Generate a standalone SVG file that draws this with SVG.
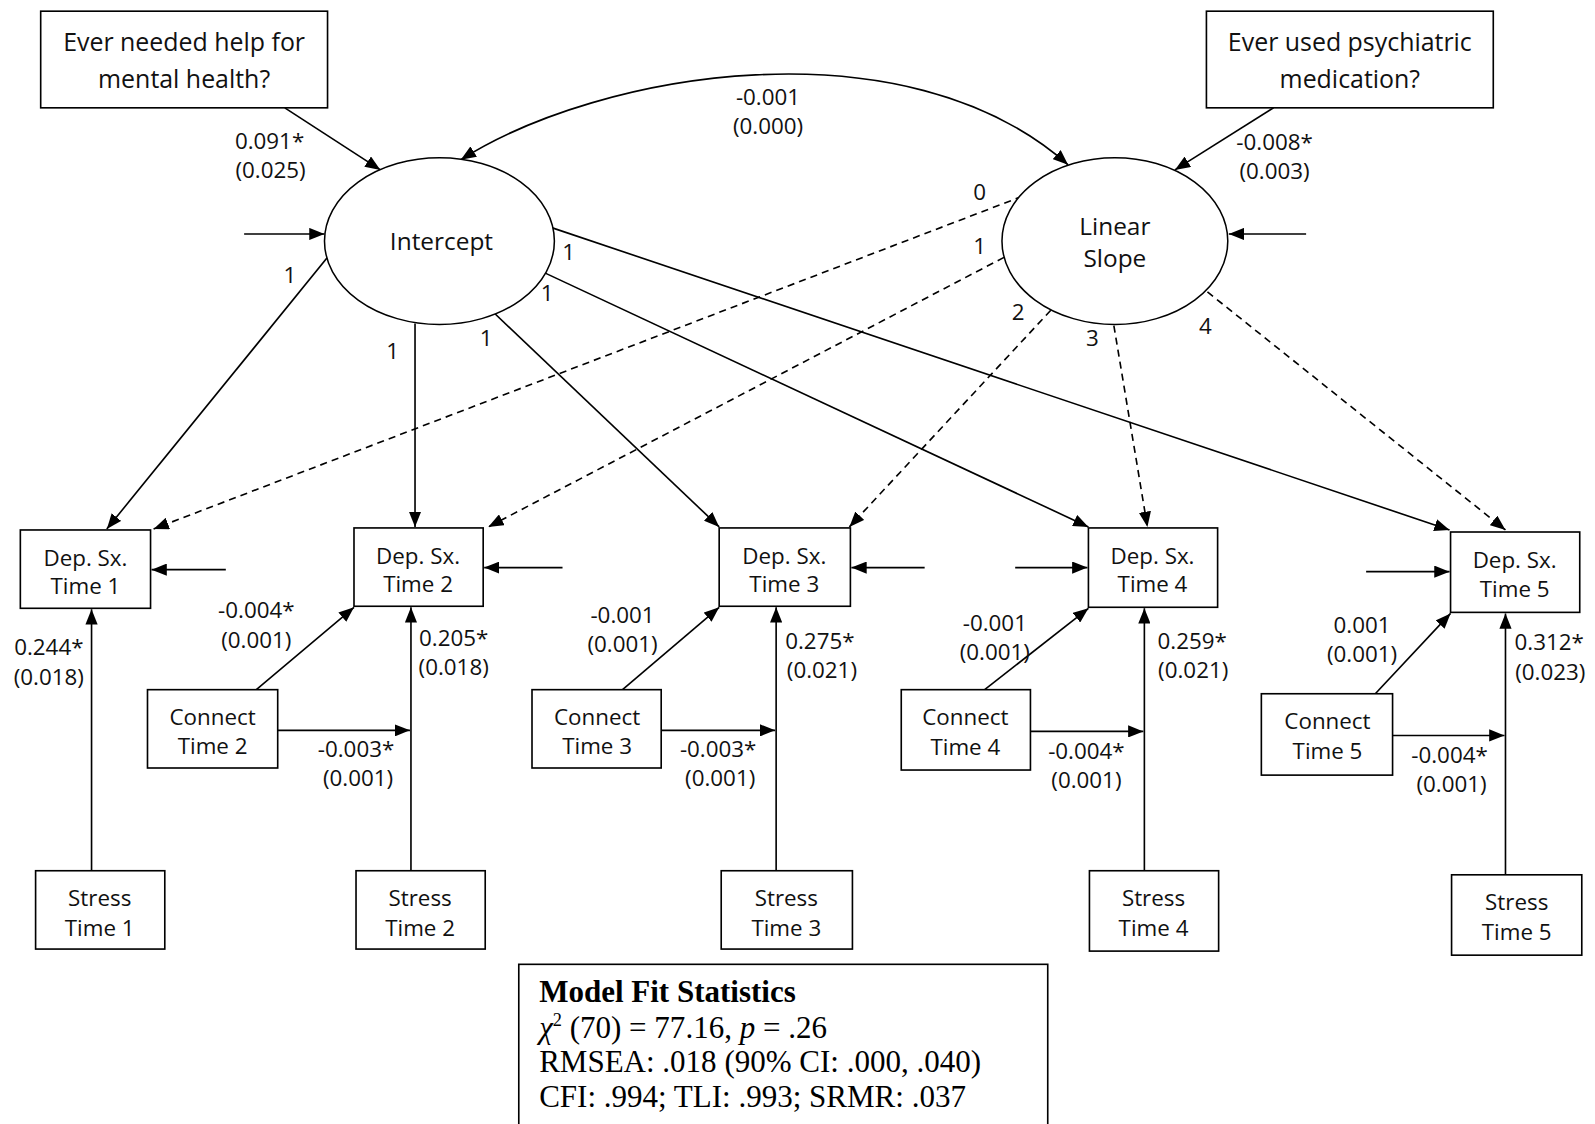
<svg xmlns="http://www.w3.org/2000/svg" width="1595" height="1124" viewBox="0 0 1595 1124">
  <style>
    .box { fill: #fff; stroke: #000; stroke-width: 1.6; }
    .lat { fill: #fff; stroke: #000; stroke-width: 1.5; }
    .t { font-family: "Open Sans", "Noto Sans", sans-serif; font-size: 22px; fill: #111; text-anchor: middle; }
    .tb { font-size: 24.5px; }
    .tl { font-size: 24px; }
    .p { fill: none; stroke: #000; stroke-width: 1.6; marker-end: url(#ah); }
    .d { stroke-dasharray: 7 5; }
    .fit { font-family: "Liberation Serif", "Times New Roman", serif; font-size: 30.5px; fill: #000; }
  </style>
  <defs>
    <marker id="ah" markerUnits="userSpaceOnUse" markerWidth="16" markerHeight="12" refX="15" refY="6" orient="auto-start-reverse">
      <path d="M0,0 L15,6 L0,12 z" fill="#000"/>
    </marker>
  </defs>
  <rect width="1595" height="1124" fill="#fff"/>
  <g transform="scale(1.01722)">
    <!-- paths between variables -->
    <g id="connectors">
      <!-- covariance between growth factors -->
      <path class="p" d="M453,157 C590,70 890,20 1050,162" marker-start="url(#ah)"/>
      <!-- predictors of growth factors -->
      <line class="p" x1="280" y1="106" x2="374" y2="167"/>
      <line class="p" x1="1252" y1="106" x2="1155" y2="167"/>
      <!-- disturbances -->
      <line class="p" x1="240" y1="230" x2="319" y2="230"/>
      <line class="p" x1="1284" y1="230" x2="1208" y2="230"/>
      <!-- intercept loadings -->
      <line class="p" x1="322" y1="253" x2="105" y2="520"/>
      <line class="p" x1="408" y1="318" x2="408" y2="518"/>
      <line class="p" x1="484" y1="306" x2="707" y2="518"/>
      <line class="p" x1="535" y1="268" x2="1070" y2="518"/>
      <line class="p" x1="543" y1="224" x2="1425" y2="521"/>
      <!-- slope loadings -->
      <line class="p d" x1="1005" y1="193" x2="151" y2="520"/>
      <line class="p d" x1="987" y1="253" x2="480" y2="518"/>
      <line class="p d" x1="1033" y1="305" x2="835" y2="518"/>
      <line class="p d" x1="1095" y1="320" x2="1128" y2="518"/>
      <line class="p d" x1="1187" y1="287" x2="1480" y2="521"/>
      <!-- residuals of depressive symptoms -->
      <line class="p" x1="222" y1="560" x2="149" y2="560"/>
      <line class="p" x1="553" y1="558" x2="476" y2="558"/>
      <line class="p" x1="909" y1="558" x2="837" y2="558"/>
      <line class="p" x1="998" y1="558" x2="1069" y2="558"/>
      <line class="p" x1="1343" y1="562" x2="1425" y2="562"/>
      <!-- stress effects -->
      <line class="p" x1="90" y1="856" x2="90" y2="599"/>
      <line class="p" x1="404" y1="856" x2="404" y2="597"/>
      <line class="p" x1="763" y1="856" x2="763" y2="597"/>
      <line class="p" x1="1125" y1="856" x2="1125" y2="598"/>
      <line class="p" x1="1480" y1="860" x2="1480" y2="603"/>
      <!-- connectedness effects -->
      <line class="p" x1="252" y1="678" x2="348" y2="597"/>
      <line class="p" x1="612" y1="678" x2="707" y2="597"/>
      <line class="p" x1="968" y1="678" x2="1070" y2="598"/>
      <line class="p" x1="1352" y1="682" x2="1426" y2="603"/>
      <!-- moderation of stress paths -->
      <line class="p" x1="273" y1="718" x2="403" y2="718"/>
      <line class="p" x1="650" y1="718" x2="762" y2="718"/>
      <line class="p" x1="1013" y1="719" x2="1124" y2="719"/>
      <line class="p" x1="1369" y1="723" x2="1479" y2="723"/>
    </g>

    <!-- path estimates -->
    <g id="labels" class="t">
      <text x="755" y="103">-0.001</text>
      <text x="755" y="132">(0.000)</text>
      <text x="265" y="146">0.091*</text>
      <text x="266" y="175">(0.025)</text>
      <text x="1253" y="147">-0.008*</text>
      <text x="1253" y="176">(0.003)</text>
      <text x="285" y="278">1</text>
      <text x="386" y="353">1</text>
      <text x="478" y="340">1</text>
      <text x="538" y="296">1</text>
      <text x="559" y="256">1</text>
      <text x="963" y="197">0</text>
      <text x="963" y="250">1</text>
      <text x="1001" y="315">2</text>
      <text x="1074" y="340">3</text>
      <text x="1185" y="328">4</text>
      <text x="48" y="644">0.244*</text>
      <text x="48" y="673">(0.018)</text>
      <text x="252" y="608">-0.004*</text>
      <text x="252" y="637">(0.001)</text>
      <text x="446" y="635">0.205*</text>
      <text x="446" y="664">(0.018)</text>
      <text x="350" y="744">-0.003*</text>
      <text x="352" y="773">(0.001)</text>
      <text x="612" y="612">-0.001</text>
      <text x="612" y="641">(0.001)</text>
      <text x="806" y="638">0.275*</text>
      <text x="808" y="667">(0.021)</text>
      <text x="706" y="744">-0.003*</text>
      <text x="708" y="773">(0.001)</text>
      <text x="978" y="620">-0.001</text>
      <text x="978" y="649">(0.001)</text>
      <text x="1172" y="638">0.259*</text>
      <text x="1173" y="667">(0.021)</text>
      <text x="1068" y="746">-0.004*</text>
      <text x="1068" y="775">(0.001)</text>
      <text x="1339" y="622">0.001</text>
      <text x="1339" y="651">(0.001)</text>
      <text x="1523" y="639">0.312*</text>
      <text x="1524" y="668">(0.023)</text>
      <text x="1425" y="750">-0.004*</text>
      <text x="1427" y="779">(0.001)</text>
    </g>

    <!-- covariates -->
    <g id="help">
      <rect class="box" x="40" y="11" width="282" height="95"/>
      <text class="t tb" x="181" y="50">Ever needed help for</text>
      <text class="t tb" x="181" y="87">mental health?</text>
    </g>
    <g id="medication">
      <rect class="box" x="1186" y="11" width="282" height="95"/>
      <text class="t tb" x="1327" y="50">Ever used psychiatric</text>
      <text class="t tb" x="1327" y="87">medication?</text>
    </g>

    <!-- growth factors -->
    <g id="intercept">
      <ellipse class="lat" cx="432" cy="237" rx="113" ry="82"/>
      <text class="t tl" x="434" y="246">Intercept</text>
    </g>
    <g id="slope">
      <ellipse class="lat" cx="1096" cy="237" rx="111" ry="82"/>
      <text class="t tl" x="1096" y="231">Linear</text>
      <text class="t tl" x="1096" y="262">Slope</text>
    </g>

    <!-- depressive symptoms -->
    <g id="dep1">
      <rect class="box" x="20" y="521" width="128" height="77"/>
      <text class="t" x="84" y="556">Dep. Sx.</text>
      <text class="t" x="84" y="584">Time 1</text>
    </g>
    <g id="dep2">
      <rect class="box" x="348" y="519" width="127" height="77"/>
      <text class="t" x="411" y="554">Dep. Sx.</text>
      <text class="t" x="411" y="582">Time 2</text>
    </g>
    <g id="dep3">
      <rect class="box" x="707" y="519" width="129" height="77"/>
      <text class="t" x="771" y="554">Dep. Sx.</text>
      <text class="t" x="771" y="582">Time 3</text>
    </g>
    <g id="dep4">
      <rect class="box" x="1070" y="519" width="127" height="78"/>
      <text class="t" x="1133" y="554">Dep. Sx.</text>
      <text class="t" x="1133" y="582">Time 4</text>
    </g>
    <g id="dep5">
      <rect class="box" x="1426" y="523" width="127" height="79"/>
      <text class="t" x="1489" y="558">Dep. Sx.</text>
      <text class="t" x="1489" y="587">Time 5</text>
    </g>

    <!-- connectedness -->
    <g id="con2">
      <rect class="box" x="145" y="678" width="128" height="77"/>
      <text class="t" x="209" y="713">Connect</text>
      <text class="t" x="209" y="741">Time 2</text>
    </g>
    <g id="con3">
      <rect class="box" x="523" y="678" width="127" height="77"/>
      <text class="t" x="587" y="713">Connect</text>
      <text class="t" x="587" y="741">Time 3</text>
    </g>
    <g id="con4">
      <rect class="box" x="886" y="678" width="127" height="79"/>
      <text class="t" x="949" y="713">Connect</text>
      <text class="t" x="949" y="742">Time 4</text>
    </g>
    <g id="con5">
      <rect class="box" x="1240" y="682" width="129" height="80"/>
      <text class="t" x="1305" y="717">Connect</text>
      <text class="t" x="1305" y="746">Time 5</text>
    </g>

    <!-- stress -->
    <g id="stress1">
      <rect class="box" x="35" y="856" width="127" height="77"/>
      <text class="t" x="98" y="891">Stress</text>
      <text class="t" x="98" y="920">Time 1</text>
    </g>
    <g id="stress2">
      <rect class="box" x="350" y="856" width="127" height="77"/>
      <text class="t" x="413" y="891">Stress</text>
      <text class="t" x="413" y="920">Time 2</text>
    </g>
    <g id="stress3">
      <rect class="box" x="709" y="856" width="129" height="77"/>
      <text class="t" x="773" y="891">Stress</text>
      <text class="t" x="773" y="920">Time 3</text>
    </g>
    <g id="stress4">
      <rect class="box" x="1071" y="856" width="127" height="79"/>
      <text class="t" x="1134" y="891">Stress</text>
      <text class="t" x="1134" y="920">Time 4</text>
    </g>
    <g id="stress5">
      <rect class="box" x="1427" y="860" width="128" height="79"/>
      <text class="t" x="1491" y="895">Stress</text>
      <text class="t" x="1491" y="924">Time 5</text>
    </g>

    <!-- fit summary -->
    <g id="fit">
      <rect class="box" x="510" y="948" width="520" height="200"/>
      <text class="fit" x="530" y="985" font-weight="bold">Model Fit Statistics</text>
      <text class="fit" x="530" y="1020"><tspan font-style="italic">χ</tspan><tspan font-size="18" dy="-11">2</tspan><tspan dy="11"> (70) = 77.16, </tspan><tspan font-style="italic">p</tspan> = .26</text>
      <text class="fit" x="530" y="1054">RMSEA: .018 (90% CI: .000, .040)</text>
      <text class="fit" x="530" y="1088">CFI: .994; TLI: .993; SRMR:  .037</text>
    </g>
  </g>
</svg>
